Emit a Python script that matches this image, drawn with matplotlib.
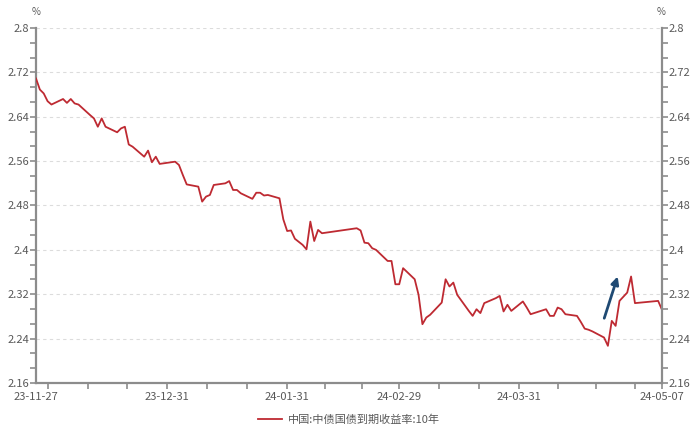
import matplotlib
matplotlib.use("Agg")
import matplotlib.pyplot as plt
import matplotlib.dates as mdates
from matplotlib.ticker import FixedLocator, AutoMinorLocator, FuncFormatter
import numpy as np
import pandas as pd

plt.rcParams['font.family'] = ['Noto Sans CJK SC', 'DejaVu Sans']

# 中债国债到期收益率:10年 (%)
dates = [
    "2023-11-27", "2023-11-28", "2023-11-29", "2023-11-30", "2023-12-01",
    "2023-12-04", "2023-12-05", "2023-12-06", "2023-12-07", "2023-12-08",
    "2023-12-11", "2023-12-12", "2023-12-13", "2023-12-14", "2023-12-15",
    "2023-12-18", "2023-12-19", "2023-12-20", "2023-12-21", "2023-12-22",
    "2023-12-25", "2023-12-26", "2023-12-27", "2023-12-28", "2023-12-29",
    "2024-01-02", "2024-01-03", "2024-01-04", "2024-01-05",
    "2024-01-08", "2024-01-09", "2024-01-10", "2024-01-11", "2024-01-12",
    "2024-01-15", "2024-01-16", "2024-01-17", "2024-01-18", "2024-01-19",
    "2024-01-22", "2024-01-23", "2024-01-24", "2024-01-25", "2024-01-26",
    "2024-01-29", "2024-01-30", "2024-01-31", "2024-02-01", "2024-02-02",
    "2024-02-04", "2024-02-05", "2024-02-06", "2024-02-07", "2024-02-08",
    "2024-02-09", "2024-02-18", "2024-02-19", "2024-02-20", "2024-02-21",
    "2024-02-22", "2024-02-23", "2024-02-26", "2024-02-27", "2024-02-28",
    "2024-02-29", "2024-03-01", "2024-03-04", "2024-03-05", "2024-03-06",
    "2024-03-07", "2024-03-08", "2024-03-11", "2024-03-12", "2024-03-13",
    "2024-03-14", "2024-03-15", "2024-03-18", "2024-03-19", "2024-03-20",
    "2024-03-21", "2024-03-22", "2024-03-25", "2024-03-26", "2024-03-27",
    "2024-03-28", "2024-03-29", "2024-04-01", "2024-04-02", "2024-04-03",
    "2024-04-07", "2024-04-08", "2024-04-09", "2024-04-10", "2024-04-11",
    "2024-04-12", "2024-04-15", "2024-04-16", "2024-04-17", "2024-04-18",
    "2024-04-19", "2024-04-22", "2024-04-23", "2024-04-24", "2024-04-25",
    "2024-04-26", "2024-04-28", "2024-04-29", "2024-04-30", "2024-05-06",
    "2024-05-07",
]
yields = [
    2.709, 2.689, 2.682, 2.668, 2.662,
    2.672, 2.665, 2.672, 2.664, 2.662,
    2.643, 2.637, 2.622, 2.637, 2.622,
    2.612, 2.619, 2.622, 2.590, 2.586,
    2.568, 2.579, 2.558, 2.568, 2.555,
    2.559, 2.553, 2.535, 2.518,
    2.514, 2.487, 2.496, 2.499, 2.517,
    2.520, 2.524, 2.508, 2.508, 2.502,
    2.492, 2.503, 2.503, 2.498, 2.499,
    2.493, 2.455, 2.434, 2.435, 2.420,
    2.409, 2.401, 2.451, 2.416, 2.436,
    2.430, 2.439, 2.435, 2.413, 2.412,
    2.403, 2.400, 2.380, 2.380, 2.338,
    2.338, 2.367, 2.347, 2.319, 2.266,
    2.278, 2.283, 2.305, 2.347, 2.334,
    2.341, 2.319, 2.290, 2.281, 2.293,
    2.286, 2.304, 2.313, 2.317, 2.289,
    2.301, 2.290, 2.307, 2.296, 2.284,
    2.293, 2.281, 2.281, 2.296, 2.293,
    2.284, 2.281, 2.270, 2.258, 2.256,
    2.253, 2.242, 2.227, 2.272, 2.263,
    2.308, 2.323, 2.352, 2.304, 2.308,
    2.292,
]
series_name = "中国:中债国债到期收益率:10年"

x_start, x_end = "2023-11-27", "2024-05-07"
x_label_dates = ["2023-11-27", "2023-12-31", "2024-01-31", "2024-02-29",
                 "2024-03-31", "2024-05-07"]
month_ends = ["2023-11-30", "2023-12-31", "2024-01-31", "2024-02-29",
              "2024-03-31", "2024-04-30"]
y_min, y_max, y_step = 2.16, 2.8, 0.08

# arrow annotation (start -> end)
arrow_start = ("2024-04-21 20:00", 2.272)
arrow_end = ("2024-04-25 18:00", 2.357)

line_color = "#BE2A32"
axis_color = "#8C8C8C"
text_color = "#595959"

x = pd.to_datetime(dates)

fig = plt.figure(figsize=(7, 4.3), dpi=100)
ax = fig.add_axes([36 / 700, 1 - 383 / 430, 626 / 700, 355 / 430])

ax.plot(x, yields, color=line_color, lw=1.3, label=series_name, zorder=3)

ax.set_xlim(pd.Timestamp(x_start), pd.Timestamp(x_end))
ax.set_ylim(y_min, y_max)

# y ticks, both sides
yt = np.round(np.arange(y_min, y_max + 1e-9, y_step), 2)
fmt = FuncFormatter(lambda v, p: f"{v:g}")
ax.yaxis.set_major_locator(FixedLocator(yt))
ax.yaxis.set_major_formatter(fmt)
ax.yaxis.set_minor_locator(AutoMinorLocator(3))
ax.grid(axis='y', which='major', color='#DCDCDC', lw=0.8, ls=(0, (3, 3)))
ax.set_axisbelow(True)

ax2 = ax.twinx()
ax2.set_ylim(y_min, y_max)
ax2.yaxis.set_major_locator(FixedLocator(yt))
ax2.yaxis.set_major_formatter(fmt)
ax2.yaxis.set_minor_locator(AutoMinorLocator(3))

# x ticks: month ends and thirds of months, labels only on a few dates
me = pd.to_datetime(month_ends)
tick_pos = [me[0]]
for a, b in zip(me[:-1], me[1:]):
    span = (b - a) / 3
    tick_pos += [a + span, a + 2 * span, b]
tick_pos.append(pd.Timestamp(x_end))
ax.xaxis.set_major_locator(FixedLocator(mdates.date2num(tick_pos)))
ax.xaxis.set_major_formatter(FuncFormatter(lambda v, p: ""))
lab = pd.to_datetime(x_label_dates)
for d in lab:
    ax.text(d, -0.025, d.strftime("%y-%m-%d"), transform=ax.get_xaxis_transform(),
            ha='center', va='top', fontsize=8, color=text_color)

for a in (ax, ax2):
    for s in a.spines.values():
        s.set_visible(False)
    a.tick_params(colors=axis_color, labelcolor=text_color, labelsize=8,
                  width=1.2, length=4)
    a.tick_params(which='minor', colors=axis_color, width=1.2, length=4)
ax.tick_params(axis='y', pad=1)
ax2.tick_params(axis='y', pad=1)
ax.spines['left'].set_visible(True)
ax.spines['bottom'].set_visible(True)
ax2.spines['right'].set_visible(True)
for s in (ax.spines['left'], ax.spines['bottom'], ax2.spines['right']):
    s.set_color(axis_color)
    s.set_linewidth(1.6)

fig.text(36 / 700, 1 - 12 / 430, "%", ha='center', va='center', fontsize=7, color=text_color)
fig.text(661 / 700, 1 - 12 / 430, "%", ha='center', va='center', fontsize=7, color=text_color)

ax.annotate("", xy=(pd.Timestamp(arrow_end[0]), arrow_end[1]),
            xytext=(pd.Timestamp(arrow_start[0]), arrow_start[1]),
            arrowprops=dict(arrowstyle="-|>,head_length=0.45,head_width=0.22",
                            color="#1F4A73", lw=2), zorder=4)

leg = ax.legend(loc='center', bbox_to_anchor=(0.5, -0.104), frameon=False,
                fontsize=8, handlelength=2.2, handletextpad=0.5)
for t in leg.get_texts():
    t.set_color(text_color)

fig.savefig("out.png", dpi=100)
